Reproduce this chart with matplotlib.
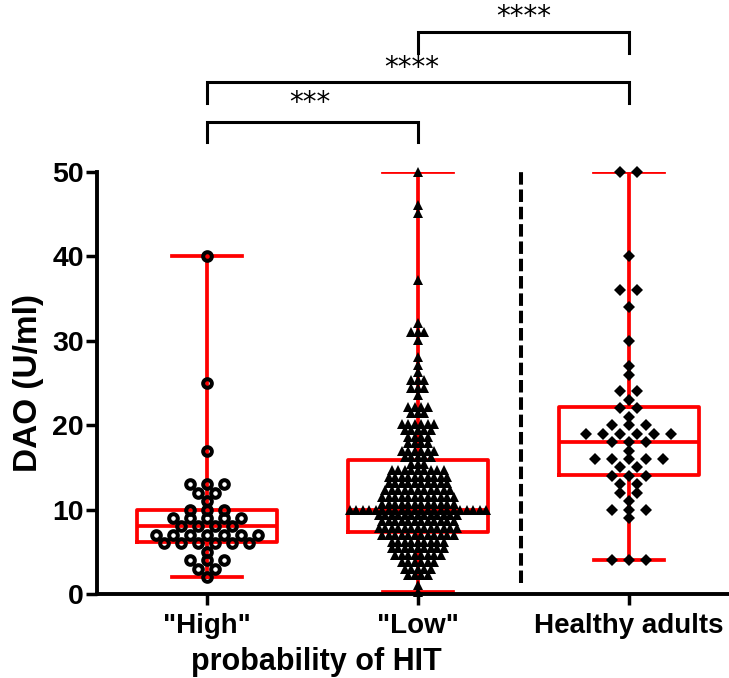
import numpy as np
import matplotlib
matplotlib.use("Agg")
import matplotlib.pyplot as plt
from matplotlib.transforms import blended_transform_factory

plt.rcParams['font.family'] = ['Liberation Sans', 'DejaVu Sans']

categories = ['"High"', '"Low"', 'Healthy adults']

# each group: value of a row of points and how many points sit on it
high_values = [40, 25, 17, 13, 12, 11, 10, 9, 8, 7, 6, 5, 4, 3, 2]
high_counts = [1, 1, 1, 3, 2, 1, 3, 5, 4, 7, 6, 1, 3, 2, 1]

low_values = [50.0, 46.1, 45.1, 37.2, 32.1, 31.1, 30.1, 28.1, 27.1, 26.3,
              25.4, 24.4, 23.6, 22.2, 21.4, 20.2, 19.4, 18.6, 17.9, 17.0,
              16.2, 15.4, 14.7, 13.9, 13.1, 12.3, 11.5, 10.7, 10.0, 9.4,
              8.6, 7.8, 7.0, 6.2, 5.4, 4.6, 3.8, 3.0, 2.2, 1.1, 0.2]
low_counts = [1, 1, 1, 1, 1, 3, 1, 1, 1, 1,
              3, 3, 1, 4, 3, 6, 5, 4, 4, 6,
              5, 3, 9, 10, 10, 11, 12, 12, 22, 13,
              12, 13, 12, 9, 9, 8, 6, 5, 4, 1, 1]

healthy_values = [50, 40, 36, 34, 30, 27, 26, 24, 23, 22, 21, 20,
                  19, 18, 17, 16, 15, 14, 13, 12, 11, 10, 9, 4]
healthy_counts = [2, 1, 2, 1, 1, 1, 1, 2, 1, 2, 1, 3,
                  6, 3, 1, 5, 2, 3, 2, 2, 1, 3, 1, 3]

# box / whisker stats (whiskers = min..max)
box_min = [2, 0.2, 4]
box_q1 = [6.2, 7.4, 14.1]
box_med = [8.0, 10.0, 18.0]
box_q3 = [9.9, 15.9, 22.1]
box_max = [40, 50, 50]

# significance brackets: (left group, right group, label)
sig_pairs = [(0, 1, '***'), (0, 2, '****'), (1, 2, '****')]


def row_layout(center, values, counts, step):
    xs, ys = [], []
    for v, n in zip(values, counts):
        offs = (np.arange(n) - (n - 1) / 2) * step
        xs.extend(center + offs)
        ys.extend([v] * n)
    return np.array(xs), np.array(ys)


fig = plt.figure(figsize=(7.29, 6.78), dpi=100)
ax = fig.add_axes([97 / 729, 84 / 678, 632 / 729, 422 / 678])

red = '#ff0000'
lw_box = 2.7
stats = []
for i in range(3):
    stats.append(dict(whislo=box_min[i], q1=box_q1[i], med=box_med[i],
                      q3=box_q3[i], whishi=box_max[i], fliers=[]))
ax.bxp(stats, positions=[0, 1, 2], widths=0.66, capwidths=0.33,
       showfliers=False,
       boxprops=dict(color=red, linewidth=lw_box),
       whiskerprops=dict(color=red, linewidth=lw_box),
       capprops=dict(color=red, linewidth=lw_box),
       medianprops=dict(color=red, linewidth=lw_box, solid_capstyle='butt'),
       manage_ticks=False)

x1, y1 = row_layout(0, high_values, high_counts, 0.0806)
ax.plot(x1, y1, 'o', ms=6.2, mfc='none', mec='black', mew=2.9,
        zorder=4, clip_on=False)
x2, y2 = row_layout(1, low_values, low_counts, 0.0308)
ax.plot(x2, y2, '^', ms=6.6, color='black', mew=0, zorder=4, clip_on=False)
x3, y3 = row_layout(2, healthy_values, healthy_counts, 0.0806)
ax.plot(x3, y3, 'D', ms=6.3, color='black', mew=0, zorder=4, clip_on=False)

# dashed separator between patients and healthy adults
ax.plot([1.49, 1.49], [1.3, 50], color='black', lw=2.9,
        dashes=(3.1, 1.2), clip_on=False)

# brackets above the plot
bracket_top = [55.96, 60.70, 66.62]
bracket_end = [53.59, 58.14, 64.06]
star_y = [58.23, 62.38, 68.31]
star_x = [0.49, 0.97, 1.5]
for (a, b, lab), yt, ye, sy, sx in zip(sig_pairs, bracket_top, bracket_end, star_y, star_x):
    ax.plot([a, a, b, b], [ye, yt, yt, ye], color='black', lw=2.2,
            clip_on=False, solid_joinstyle='miter')
    ax.text(sx, sy, lab, ha='center', va='center', fontsize=20,
            family='DejaVu Sans', clip_on=False)

ax.set_xlim(-0.521, 2.474)
ax.set_ylim(0, 50)
ax.set_yticks([0, 10, 20, 30, 40, 50])
ax.set_xticks([0, 1, 2])
ax.set_xticklabels(categories, fontsize=20, fontweight='bold')
for lab in ax.get_yticklabels():
    lab.set_fontsize(20.5)
    lab.set_fontweight('bold')
ax.tick_params(axis='both', direction='out', length=8, width=2.5, color='black')
ax.tick_params(axis='y', pad=1.5)
ax.tick_params(axis='x', pad=6)

for side in ['top', 'right']:
    ax.spines[side].set_visible(False)
for side in ['left', 'bottom']:
    ax.spines[side].set_linewidth(2.8)

fig.text(29 / 729, 1 - 383 / 678, 'DAO (U/ml)', rotation=90, ha='center',
         va='center', fontsize=24, fontweight='bold')
ax.text(0.52, 1 - 670 / 678, 'probability of HIT',
        transform=blended_transform_factory(ax.transData, fig.transFigure),
        ha='center', va='baseline', fontsize=22, fontweight='bold')

fig.savefig('out.png', dpi=100)
